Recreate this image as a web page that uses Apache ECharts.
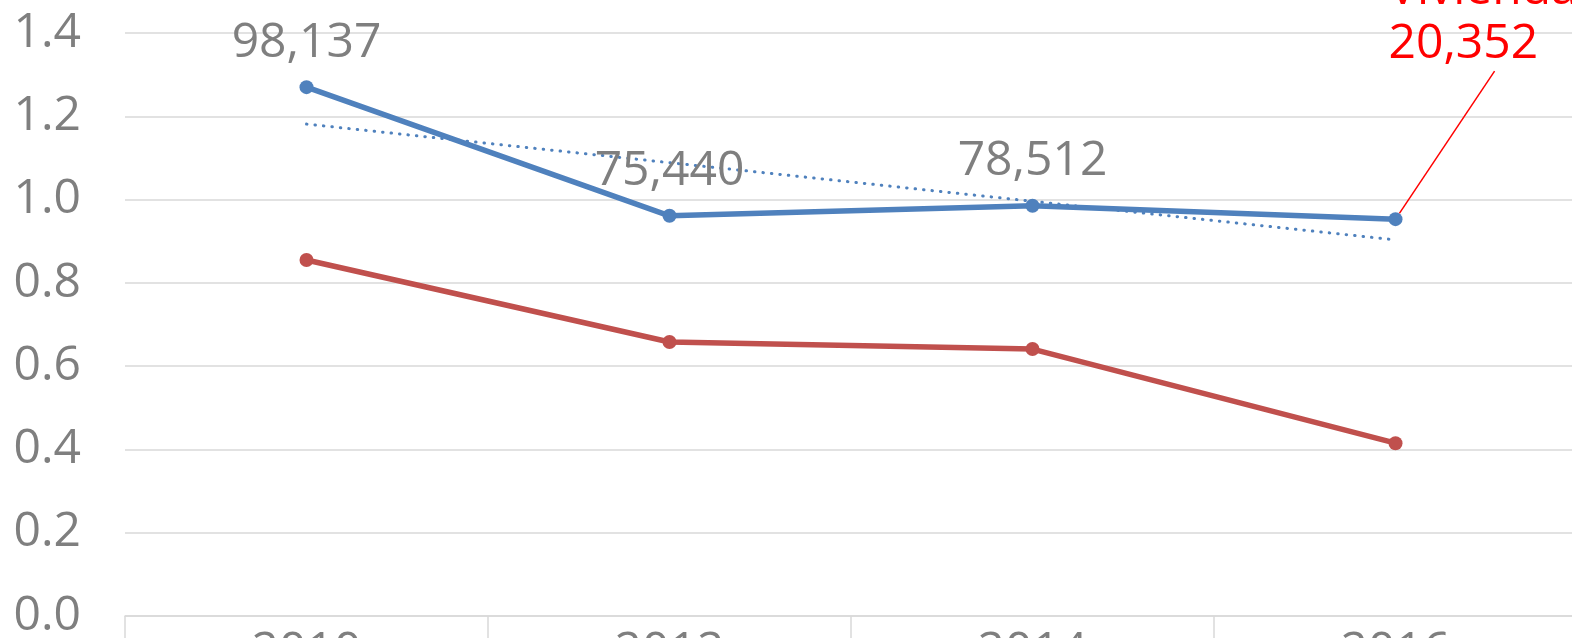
<!DOCTYPE html>
<html>
<head>
<meta charset="utf-8">
<script src="https://cdn.jsdelivr.net/npm/echarts@6/dist/echarts.min.js"></script>
<style>
  html, body { margin: 0; padding: 0; background: #fff; }
  #chart { width: 1572px; height: 638px; }
</style>
</head>
<body>
<div id="chart"></div>
<script>
// data
const years = ["2010", "2012", "2014", "2016"];
const blueValues = [1.27, 0.961, 0.985, 0.953];
const redValues = [0.855, 0.658, 0.641, 0.415];
const blueLabels = ["98,137", "75,440", "78,512", "20,352"];
const calloutTitle = "Viviendas";

const gray = "#7f7f7f";
const blue = "#4f81bd";
const red = "#c0504d";
const font = "Open Sans";

// linear trendline of the blue series (least squares, like Excel)
function linearTrend(vals) {
  const n = vals.length;
  const mx = (n - 1) / 2;
  const my = vals.reduce((a, b) => a + b, 0) / n;
  let sxy = 0, sxx = 0;
  vals.forEach((v, i) => { sxy += (i - mx) * (v - my); sxx += (i - mx) * (i - mx); });
  const k = sxy / sxx;
  return vals.map((v, i) => my + k * (i - mx));
}

const blueData = blueValues.map((v, i) => {
  const item = { value: v };
  if (i === blueValues.length - 1) {
    item.label = {
      formatter: calloutTitle + "\n" + blueLabels[i],
      color: "#ff0000",
      align: "left",
      lineHeight: 54
    };
    item.labelLine = { show: true, lineStyle: { color: "#ff0000", width: 1.5 } };
  }
  return item;
});

const myChart = echarts.init(document.getElementById("chart"));
const chartOptions = {
  animation: false,
  textStyle: { fontFamily: font },
  grid: {
    left: 125, top: 33, width: 1452, height: 583,
    containLabel: false, outerBoundsMode: "none"
  },
  xAxis: {
    type: "category",
    data: years,
    boundaryGap: true,
    axisLine: { lineStyle: { color: "#d9d9d9", width: 1.5 } },
    axisTick: { show: true, length: 30, lineStyle: { color: "#d9d9d9", width: 1.5 } },
    axisLabel: { color: gray, fontSize: 48, margin: 12, fontFamily: font }
  },
  yAxis: {
    type: "value",
    min: 0,
    max: 1.4,
    interval: 0.2,
    axisLine: { show: false },
    axisTick: { show: false },
    splitLine: { lineStyle: { color: "#d9d9d9", width: 1.5 } },
    axisLabel: {
      color: gray,
      fontSize: 48,
      margin: 44,
      fontFamily: font,
      formatter: (v) => v.toFixed(1)
    }
  },
  series: [
    {
      name: "Tendencia",
      type: "line",
      data: linearTrend(blueValues),
      showSymbol: false,
      silent: true,
      z: 1,
      lineStyle: { color: blue, width: 3, type: [0.5, 8], cap: "round" }
    },
    {
      name: "Hogares",
      type: "line",
      data: redValues,
      symbol: "circle",
      symbolSize: 14,
      z: 2,
      itemStyle: { color: red },
      lineStyle: { color: red, width: 5.5 }
    },
    {
      name: calloutTitle,
      type: "line",
      data: blueData,
      symbol: "circle",
      symbolSize: 14,
      z: 3,
      itemStyle: { color: blue },
      lineStyle: { color: blue, width: 5.5 },
      label: {
        show: true,
        position: "top",
        distance: 13,
        color: gray,
        fontSize: 48,
        fontFamily: font,
        formatter: (p) => blueLabels[p.dataIndex]
      },
      labelLayout: function (params) {
        if (params.dataIndex !== blueValues.length - 1) return {};
        const cx = params.rect.x + params.rect.width / 2;
        const cy = params.rect.y + params.rect.height / 2;
        return {
          x: cx - 7,
          y: cy - 148,
          align: "left",
          verticalAlign: "bottom"
        };
      }
    }
  ]
};
myChart.setOption(chartOptions);
</script>
</body>
</html>
